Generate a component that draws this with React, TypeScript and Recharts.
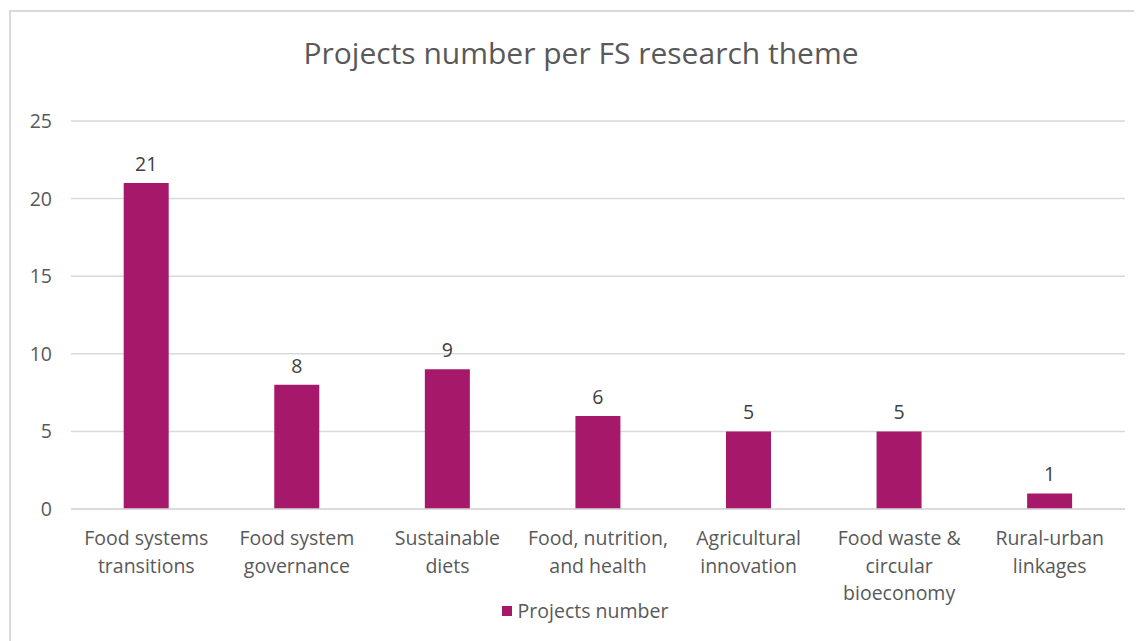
import React from 'react';
import { BarChart, Bar, XAxis, YAxis, CartesianGrid, Legend, LabelList } from 'recharts';

const categories = [
  'Food systems transitions',
  'Food system governance',
  'Sustainable diets',
  'Food, nutrition, and health',
  'Agricultural innovation',
  'Food waste & circular bioeconomy',
  'Rural-urban linkages',
];
const tickLines = [
  ['Food systems', 'transitions'],
  ['Food system', 'governance'],
  ['Sustainable', 'diets'],
  ['Food, nutrition,', 'and health'],
  ['Agricultural', 'innovation'],
  ['Food waste &', 'circular', 'bioeconomy'],
  ['Rural-urban', 'linkages'],
];
const projects = [21, 8, 9, 6, 5, 5, 1];
const yTicks = [0, 5, 10, 15, 20, 25];

const data = categories.map((name, i) => ({ name, projects: projects[i] }));

const FONT = '"Open Sans", Lato, sans-serif';
const TEXT = '#595959';
const BAR = '#A6186A';
const FS = 19.5;

function CategoryTick(props: any) {
  const { x, y, payload } = props;
  const lines = tickLines[payload.index] ?? [payload.value];
  return (
    <text x={x} y={y} textAnchor="middle" fill={TEXT} fontSize={FS} fontFamily={FONT}>
      {lines.map((l: string, i: number) => (
        <tspan key={i} x={x} dy={i === 0 ? 28 : 27.5}>
          {l}
        </tspan>
      ))}
    </text>
  );
}

function LegendBox() {
  return (
    <div
      style={{
        display: 'flex',
        justifyContent: 'center',
        alignItems: 'center',
        paddingLeft: 34,
        fontFamily: FONT,
        fontSize: FS,
        color: TEXT,
      }}
    >
      <span style={{ width: 10, height: 10, background: BAR, display: 'inline-block', marginRight: 6 }} />
      <span>Projects number</span>
    </div>
  );
}

export default function App() {
  return (
    <div
      style={{
        position: 'relative',
        width: 1140,
        height: 640,
        marginLeft: 1,
        marginTop: 2,
        border: '2px solid #d9d9d9',
        boxSizing: 'border-box',
        background: '#fff',
      }}
    >
      <div
        style={{
          position: 'absolute',
          top: 20,
          left: 0,
          width: 1140,
          textAlign: 'center',
          fontFamily: FONT,
          fontSize: 30,
          color: TEXT,
        }}
      >
        Projects number per FS research theme
      </div>
      <div style={{ position: 'absolute', left: 0, top: 0 }}>
        <BarChart
          width={1136}
          height={636}
          data={data}
          margin={{ top: 109, right: 22, left: 0, bottom: 12 }}
          barCategoryGap="35%"
        >
          <CartesianGrid vertical={false} stroke="#d9d9d9" strokeWidth={1.5} />
          <XAxis
            dataKey="name"
            interval={0}
            tickLine={false}
            axisLine={{ stroke: '#d9d9d9', strokeWidth: 1.5 }}
            tick={<CategoryTick />}
            height={100}
          />
          <YAxis
            width={60}
            domain={[0, 25]}
            ticks={yTicks}
            axisLine={false}
            tickLine={false}
            tickMargin={13}
            tick={{ fill: TEXT, fontSize: FS, fontFamily: FONT }}
          />
          <Legend verticalAlign="bottom" content={<LegendBox />} wrapperStyle={{ bottom: 24 }} />
          <Bar dataKey="projects" name="Projects number" fill={BAR} isAnimationActive={false} maxBarSize={46}>
            <LabelList dataKey="projects" position="top" offset={12} fill="#404040" fontSize={FS} fontFamily={FONT} />
          </Bar>
        </BarChart>
      </div>
    </div>
  );
}
